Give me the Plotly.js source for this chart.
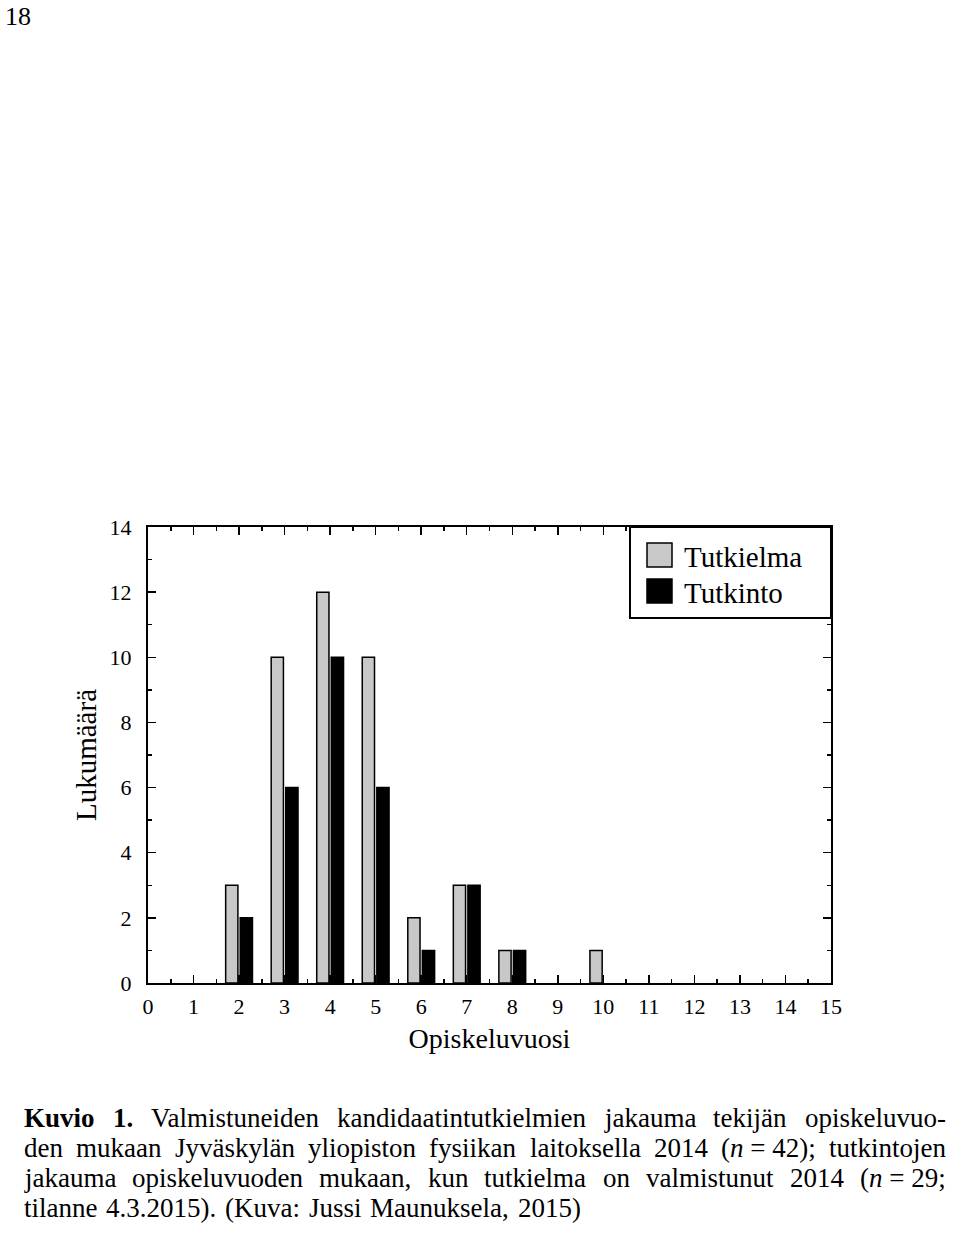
<!DOCTYPE html>
<html>
<head>
<meta charset="utf-8">
<script src="https://cdn.plot.ly/plotly-3.0.1.min.js"></script>
<style>html,body{margin:0;padding:0;background:#fff;}#chart{width:960px;height:1240px;}</style>
</head>
<body>
<div id="chart"></div>
<script>
const years = [0, 1, 2, 3, 4, 5, 6, 7, 8, 9, 10, 11, 12, 13, 14, 15];
const tutkielma = [0, 0, 3, 10, 12, 10, 2, 3, 1, 0, 1, 0, 0, 0, 0, 0];
const tutkinto = [0, 0, 2, 6, 10, 6, 1, 3, 1, 0, 0, 0, 0, 0, 0, 0];
const seriesNames = ["Tutkielma", "Tutkinto"];
const seriesColors = ["#c8c8c8", "#000000"];
const yTicks = [0, 2, 4, 6, 8, 10, 12, 14];
const xTitle = "Opiskeluvuosi";
const yTitle = "Lukumäärä";
const captionLines = [
  "<b>Kuvio 1.</b> Valmistuneiden kandidaatintutkielmien jakauma tekijän opiskeluvuo-",
  "den mukaan Jyväskylän yliopiston fysiikan laitoksella 2014 (<i>n</i>\u00a0=\u00a042); tutkintojen",
  "jakauma opiskeluvuoden mukaan, kun tutkielma on valmistunut 2014 (<i>n</i>\u00a0=\u00a029;",
  "tilanne 4.3.2015). (Kuva: Jussi Maunuksela, 2015)"
];
const pageNumber = "18";

const FONT = "Liberation Serif";
const W = 960, H = 1240;
const PL = 148, PR = 831, PT = 527, PB = 983;
const pw = PR - PL, ph = PB - PT;
const px2x = p => (p - PL) / pw;
const py2y = p => (PB - p) / ph;

const nz = a => a.map(v => v === 0 ? null : v);

const traces = [
  {type: 'bar', name: seriesNames[0], x: years, y: nz(tutkielma), showlegend: false,
   marker: {color: seriesColors[0], line: {color: '#000', width: 1.5}}},
  {type: 'bar', name: seriesNames[1], x: years, y: nz(tutkinto), showlegend: false,
   marker: {color: seriesColors[1], line: {color: '#000', width: 1.5}}}
];

const annotations = [];
const shapes = [];

annotations.push({text: pageNumber, xref: 'paper', yref: 'paper', x: px2x(3), y: py2y(16),
  xanchor: 'left', yanchor: 'middle', showarrow: false, font: {family: FONT, size: 26, color: '#000'}});

// legend box (manual, for large swatches)
shapes.push({type: 'rect', xref: 'paper', yref: 'paper', x0: px2x(630), x1: px2x(831), y0: py2y(618), y1: py2y(527),
  line: {color: '#000', width: 2}, fillcolor: '#fff', layer: 'above'});
const legY = [555, 591];
seriesNames.forEach((nm, i) => {
  shapes.push({type: 'rect', xref: 'paper', yref: 'paper', x0: px2x(647), x1: px2x(672),
    y0: py2y(legY[i] + 12), y1: py2y(legY[i] - 12), line: {color: '#000', width: 1.5},
    fillcolor: seriesColors[i], layer: 'above'});
  annotations.push({text: nm, xref: 'paper', yref: 'paper', x: px2x(682), y: py2y(legY[i] + 2),
    xanchor: 'left', yanchor: 'middle', showarrow: false, font: {family: FONT, size: 29, color: '#000'}});
});

// caption, justified word by word
const CAP_SIZE = 27;
const cv = document.createElement('canvas').getContext('2d');
function measure(t, b, it) {
  cv.font = (it ? 'italic ' : '') + (b ? 'bold ' : '') + CAP_SIZE + 'px "' + FONT + '"';
  return cv.measureText(t).width;
}
function parseLine(s) {
  const re = /(<\/?[bi]>)|([^<]+)/g;
  let m, b = false, it = false;
  const words = [[]];
  while ((m = re.exec(s)) !== null) {
    if (m[1]) {
      if (m[1] === '<b>') b = true; else if (m[1] === '</b>') b = false;
      else if (m[1] === '<i>') it = true; else if (m[1] === '</i>') it = false;
    } else {
      const parts = m[2].split(' ');
      parts.forEach((p, k) => {
        if (k > 0) words.push([]);
        if (p.length) words[words.length - 1].push({t: p, b: b, i: it});
      });
    }
  }
  return words.filter(w => w.length).map(w => ({
    html: w.map(r => (r.b ? '<b>' : '') + (r.i ? '<i>' : '') + r.t + (r.i ? '</i>' : '') + (r.b ? '</b>' : '')).join(''),
    width: w.reduce((s, r) => s + measure(r.t, r.b, r.i), 0)
  }));
}
const capLeft = 25, capRight = 947;
const lineY = [1118, 1148, 1178, 1208];
captionLines.forEach((line, li) => {
  const words = parseLine(line);
  const total = words.reduce((s, w) => s + w.width, 0);
  const last = li === captionLines.length - 1;
  const gap = last ? measure(' ', false, false) * 1.3 : (capRight - capLeft - total) / (words.length - 1);
  let xp = capLeft;
  words.forEach(w => {
    annotations.push({text: w.html, xref: 'paper', yref: 'paper', x: px2x(xp - 1), y: py2y(lineY[li]),
      xanchor: 'left', yanchor: 'middle', showarrow: false, borderpad: 0, borderwidth: 0,
      font: {family: FONT, size: CAP_SIZE, color: '#000'}});
    xp += w.width + gap;
  });
});

const layout = {
  width: W, height: H,
  margin: {l: PL, r: W - PR, t: PT, b: H - PB},
  paper_bgcolor: '#fff', plot_bgcolor: '#fff',
  barmode: 'group', bargap: 0.36, bargroupgap: 0.16,
  font: {family: FONT, color: '#000'},
  showlegend: false,
  xaxis: {range: [0, 15], tickmode: 'array', tickvals: years, ticktext: years.map(String),
    ticks: 'inside', ticklen: 8, tickwidth: 1.5, tickcolor: '#000', ticklabelstandoff: 3,
    minor: {tickvals: years.slice(0, 15).map(v => v + 0.5), ticks: 'inside', ticklen: 4, tickwidth: 1.5, tickcolor: '#000'},
    showline: true, linecolor: '#000', linewidth: 2, mirror: 'allticks',
    showgrid: false, zeroline: false, fixedrange: true,
    tickfont: {family: FONT, size: 22, color: '#000'},
    title: {text: xTitle, font: {family: FONT, size: 28, color: '#000'}, standoff: 10}},
  yaxis: {range: [0, 14], tickmode: 'array', tickvals: yTicks, ticktext: yTicks.map(String),
    ticks: 'inside', ticklen: 8, tickwidth: 1.5, tickcolor: '#000', ticklabelstandoff: 10,
    minor: {dtick: 1, ticks: 'inside', ticklen: 4, tickwidth: 1.5, tickcolor: '#000'},
    showline: true, linecolor: '#000', linewidth: 2, mirror: 'allticks',
    showgrid: false, zeroline: false, fixedrange: true,
    tickfont: {family: FONT, size: 22, color: '#000'},
    title: {text: yTitle, font: {family: FONT, size: 29, color: '#000'}, standoff: 4}},
  shapes: shapes,
  annotations: annotations
};

Plotly.newPlot('chart', traces, layout, {displayModeBar: false, staticPlot: true});
</script>
</body>
</html>
